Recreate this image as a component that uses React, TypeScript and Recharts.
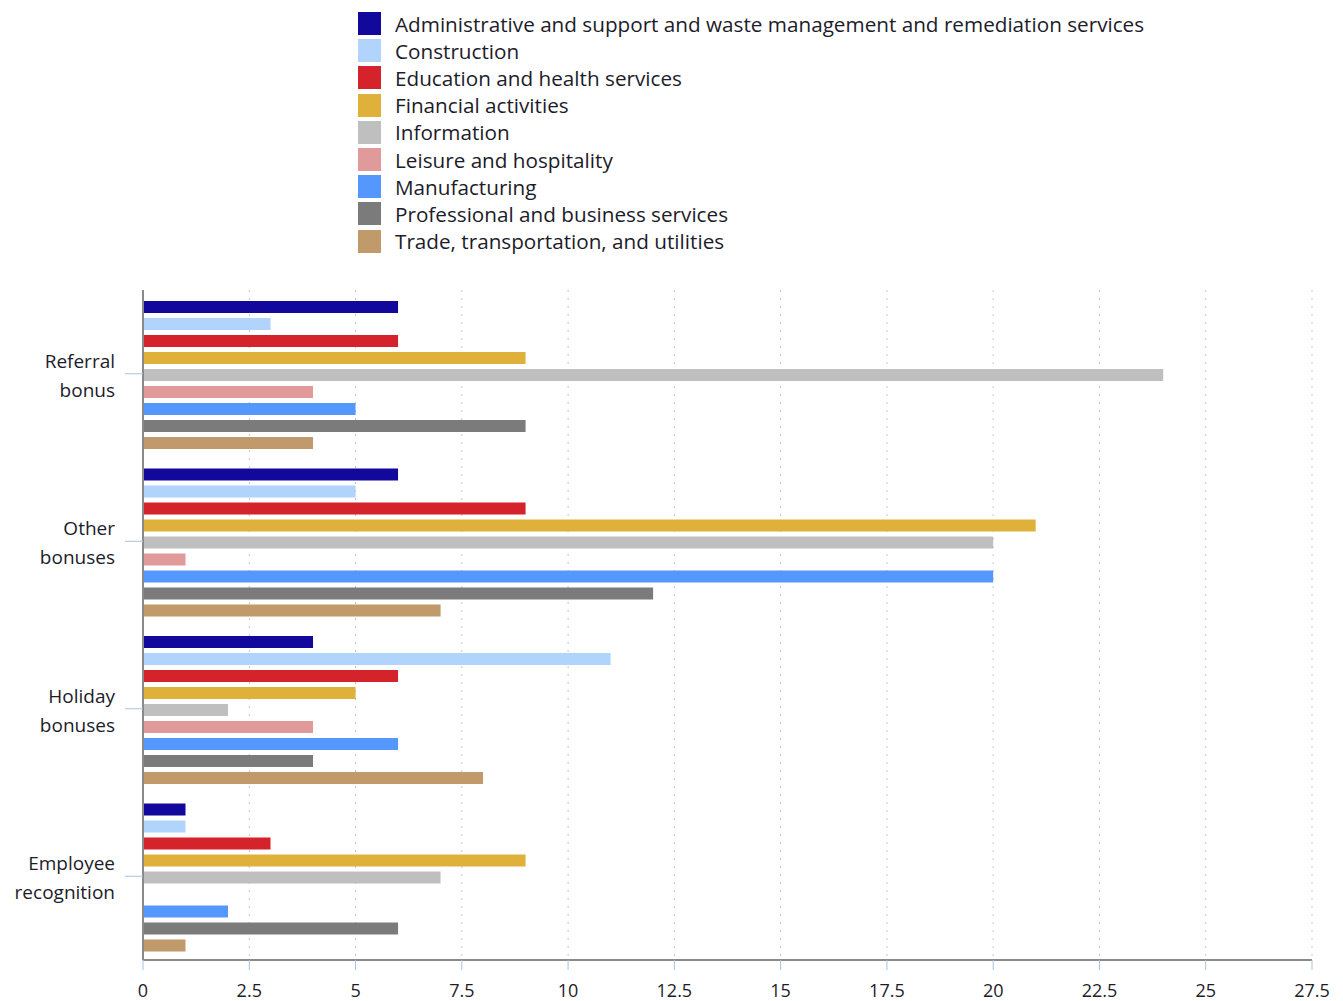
import React from 'react';
import { BarChart, Bar, XAxis, YAxis, CartesianGrid } from 'recharts';

const categories = ['Referral bonus', 'Other bonuses', 'Holiday bonuses', 'Employee recognition'];
const categoryLines = [['Referral', 'bonus'], ['Other', 'bonuses'], ['Holiday', 'bonuses'], ['Employee', 'recognition']];

const seriesNames = [
  'Administrative and support and waste management and remediation services',
  'Construction',
  'Education and health services',
  'Financial activities',
  'Information',
  'Leisure and hospitality',
  'Manufacturing',
  'Professional and business services',
  'Trade, transportation, and utilities',
];
const seriesColors = ['#13089c', '#b0d4fc', '#d5232b', '#e0b13a', '#bfbfbf', '#e09a9a', '#5598fd', '#7b7b7b', '#c09a6a'];

const administrative = [6, 6, 4, 1];
const construction = [3, 5, 11, 1];
const education = [6, 9, 6, 3];
const financial = [9, 21, 5, 9];
const information = [24, 20, 2, 7];
const leisure = [4, 1, 4, 0];
const manufacturing = [5, 20, 6, 2];
const professional = [9, 12, 4, 6];
const trade = [4, 7, 8, 1];

const seriesValues = [administrative, construction, education, financial, information, leisure, manufacturing, professional, trade];
const xTicks = [0, 2.5, 5, 7.5, 10, 12.5, 15, 17.5, 20, 22.5, 25, 27.5];

const data = categories.map((c, i) => {
  const row: any = { cat: c };
  seriesValues.forEach((vals, s) => { row['s' + s] = vals[i]; });
  return row;
});

const FONT = '"Open Sans", Lato, sans-serif';
const TEXT = '#1c1c2a';

const YTick = (props: any) => {
  const { y, payload } = props;
  const idx = categories.indexOf(payload.value);
  const lines = idx >= 0 ? categoryLines[idx] : [payload.value];
  return (
    <text x={107} y={y} textAnchor="end" fontFamily={FONT} fontSize={19} fill={TEXT}>
      <tspan x={107} dy={-6}>{lines[0]}</tspan>
      <tspan x={107} dy={29}>{lines[1]}</tspan>
    </text>
  );
};

export default function App() {
  return (
    <div style={{ position: 'relative', width: 1335, height: 993 }}>
      <div style={{ position: 'absolute', left: 350, top: 2, fontFamily: FONT, fontSize: 20.7, color: TEXT }}>
        {seriesNames.map((n, i) => (
          <div key={n} style={{ display: 'flex', alignItems: 'center', height: 27.2 }}>
            <div style={{ width: 23, height: 23, background: seriesColors[i], marginRight: 14 }} />
            <span style={{ whiteSpace: 'nowrap' }}>{n}</span>
          </div>
        ))}
      </div>
      <div style={{ position: 'absolute', left: 0, top: 0 }}>
        <BarChart
          width={1335}
          height={993}
          data={data}
          layout="vertical"
          margin={{ top: 282, right: 31, bottom: 0, left: 0 }}
          barGap={5}
          barCategoryGap={11}
        >
          <CartesianGrid horizontal={false} stroke="#c4c4c4" strokeDasharray="2 6" />
          <XAxis
            type="number"
            domain={[0, 27.5]}
            ticks={xTicks}
            height={41}
            tickSize={10}
            tickMargin={14}
            axisLine={{ stroke: '#8a8a8a', strokeWidth: 2 }}
            tickLine={{ stroke: '#a9c2dc' }}
            tick={{ fontFamily: FONT, fontSize: 18, fill: TEXT }}
            interval={0}
          />
          <YAxis
            type="category"
            dataKey="cat"
            width={135}
            tickSize={18}
            axisLine={{ stroke: '#8a8a8a', strokeWidth: 2 }}
            tickLine={{ stroke: '#a9c2dc' }}
            tick={<YTick />}
            interval={0}
          />
          {seriesNames.map((n, i) => (
            <Bar key={n} dataKey={'s' + i} name={n} fill={seriesColors[i]} isAnimationActive={false} />
          ))}
        </BarChart>
      </div>
    </div>
  );
}
